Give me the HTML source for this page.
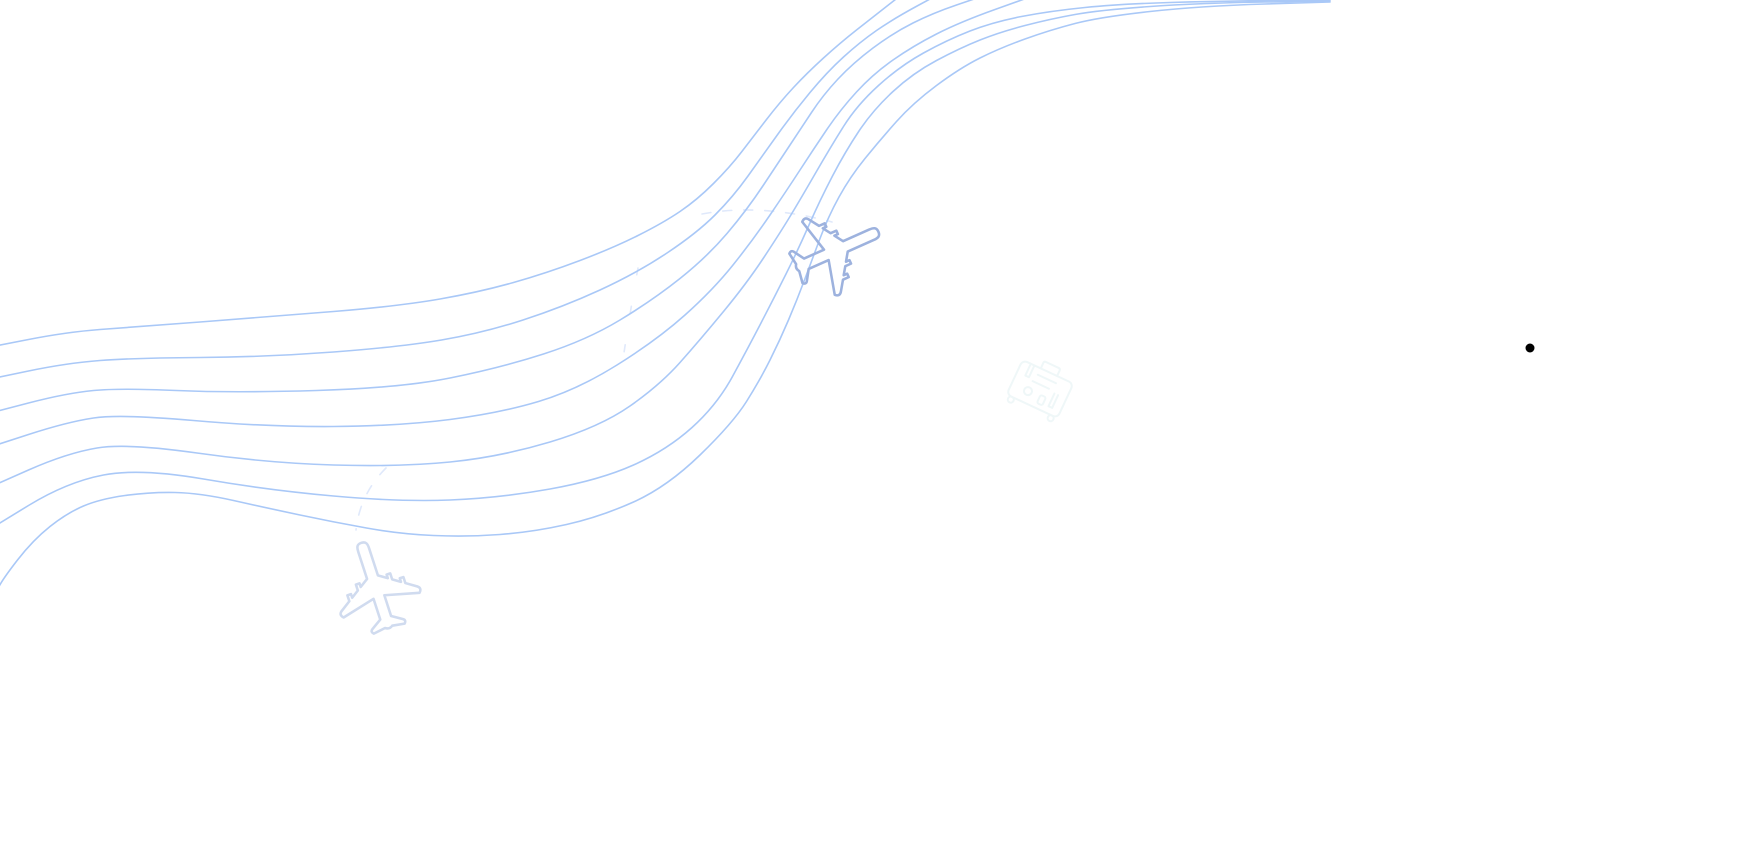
<!DOCTYPE html>
<html>
<head>
<meta charset="utf-8">
<style>
  html, body { margin: 0; padding: 0; background: #ffffff; }
  body { width: 1744px; height: 846px; overflow: hidden; font-family: "Liberation Sans", sans-serif; }
  svg { display: block; }
</style>
</head>
<body>
<svg width="1744" height="846" viewBox="0 0 1744 846" xmlns="http://www.w3.org/2000/svg">
  <defs>
    <path id="plane" d="M 50 0 C 50 -5 47 -6 42 -6 L 12 -6 L 6 -15 L 10 -15 L 10 -19 L 3.4 -19 L -2 -27 L 2 -27 L 2 -31 L -4.6 -31 L -12 -42 Q -15 -46 -19 -42 L -10 -6 L -33 -6 L -40 -17 Q -42 -20 -45 -17 L -43 -4 Q -46 0 -43 4 L -45 17 Q -42 20 -40 17 L -33 6 L -10 6 L -19 42 Q -15 46 -12 42 L -4.6 31 L 2 31 L 2 27 L -2 27 L 3.4 19 L 10 19 L 10 15 L 6 15 L 12 6 L 42 6 C 47 6 50 5 50 0 Z"/>
  </defs>

  <!-- faint dashed trails -->
  <g fill="none" stroke="#e0e9fb" stroke-width="1.6" stroke-linecap="round">
    <path d="M 702 214 Q 760 203 832 222" stroke-dasharray="9 12"/>
    <path d="M 638 268 Q 630 312 622 366" stroke-dasharray="7 32"/>
    <path d="M 386 468 Q 360 494 356 530" stroke-dasharray="9 14"/>
  </g>

  <!-- contrail lines -->
  <g fill="none" stroke="#a9c8f7" stroke-width="1.6" stroke-linecap="round">
    <path d="M -10 347 L 28.5 339.5 Q 67 332 100 329.5 Q 133 327 200 322 Q 267 317 333.5 311.5 Q 400 306 440 299 Q 480 292 513.5 282.5 Q 547 273 580 260.5 Q 613 248 638 235.5 Q 663 223 680 211.5 Q 697 200 713.5 183.5 Q 730 167 741.5 152 Q 753 137 766.5 119.5 Q 780 102 793.5 87.5 Q 807 73 823.5 58 Q 840 43 856.5 30 Q 873 17 889 4.5 L 905 -8"/>
    <path d="M -10 379 L 28.5 371 Q 67 363 100 360.5 Q 133 358 200 357.5 Q 267 357 333.5 352 Q 400 347 441.5 340 Q 483 333 523 320 Q 563 307 600 290 Q 637 273 667 253 Q 697 233 715 215 Q 733 197 748 176 Q 763 155 778 134 Q 793 113 810 92.5 Q 827 72 843.5 57 Q 860 42 876.5 30.5 Q 893 19 918 5.5 L 943 -8"/>
    <path d="M -10 413 L 28.5 403 Q 67 393 93.5 390.5 Q 120 388 176.5 390.5 Q 233 393 316.5 390.5 Q 400 388 450 378 Q 500 368 543.5 354 Q 587 340 620 320 Q 653 300 680 278.5 Q 707 257 727 233.5 Q 747 210 763.5 185 Q 780 160 790 145 Q 800 130 811.5 112.5 Q 823 95 838 79 Q 853 63 873 48 Q 893 33 913 23 Q 933 13 956.5 5 L 980 -3"/>
    <path d="M -10 447 L 28.5 434.5 Q 67 422 93.5 418 Q 120 414 193.5 420.5 Q 267 427 333.5 426.5 Q 400 426 450 419.5 Q 500 413 538.5 401.5 Q 577 390 617 365 Q 657 340 685 315 Q 713 290 733 265 Q 753 240 770 215 Q 787 190 800 170 Q 813 150 826.5 130 Q 840 110 856.5 92 Q 873 74 893 60 Q 913 46 936.5 34 Q 960 22 995 9.5 L 1030 -3"/>
    <path d="M -10 487 L 28.5 470 Q 67 453 97 448 Q 127 443 197 453 Q 267 463 333.5 465 Q 400 467 450 462 Q 500 457 550 442 Q 600 427 630 406 Q 660 385 680 362.5 Q 700 340 723.5 311.5 Q 747 283 763.5 258 Q 780 233 790 216.5 Q 800 200 815 174 Q 830 148 843.5 126.5 Q 857 105 878.5 85.5 Q 900 66 923.5 53 Q 947 40 970 31 Q 993 22 1021.5 16.5 Q 1050 11 1085 7.5 Q 1120 4 1170 2.5 Q 1220 1 1275 0.5 L 1330 0"/>
    <path d="M -10 529 L 28.5 505.5 Q 67 482 103.5 475 Q 140 468 203.5 479 Q 267 490 333.5 496 Q 400 502 450 500 Q 500 498 550 489 Q 600 480 633.5 465 Q 667 450 692 427.5 Q 717 405 732.5 376.5 Q 748 348 761 323 Q 774 298 786 274 Q 798 250 809 225 Q 820 200 832.5 176 Q 845 152 859 131 Q 873 110 893 91.5 Q 913 73 936.5 60.5 Q 960 48 980 40 Q 1000 32 1025 25.5 Q 1050 19 1075 14.5 Q 1100 10 1150 6.5 Q 1200 3 1265 2 L 1330 1"/>
    <path d="M -5 595 L -1.5 587.5 Q 2 580 17.5 560 Q 33 540 50 526.5 Q 67 513 83.5 506 Q 100 499 125 495.5 Q 150 492 175 492.5 Q 200 493 233.5 500.5 Q 267 508 300 515 Q 333 522 366.5 528 Q 400 534 433.5 535.5 Q 467 537 500 534.5 Q 533 532 566.5 524.5 Q 600 517 633.5 502 Q 667 487 700 455 Q 733 423 746.5 401.5 Q 760 380 770 360 Q 780 340 788.5 320 Q 797 300 804.5 280 Q 812 260 820 238.5 Q 828 217 839 197 Q 850 177 865 158.5 Q 880 140 896.5 121.5 Q 913 103 936.5 85.5 Q 960 68 980 58 Q 1000 48 1025 39 Q 1050 30 1075 23.5 Q 1100 17 1150 11.5 Q 1200 6 1265 4 L 1330 2"/>
  </g>

  <!-- airplane 1 (upper, darker) -->
  <g transform="translate(835,251) rotate(-24) scale(0.95)">
    <use href="#plane" fill="none" stroke="#9db2de" stroke-width="2.7" stroke-linejoin="round"/>
  </g>

  <!-- airplane 2 (lower, faint) -->
  <g transform="translate(376,588) rotate(-108) scale(0.95)">
    <use href="#plane" fill="none" stroke="#d0dbef" stroke-width="2.7" stroke-linejoin="round"/>
  </g>

  <!-- very faint luggage -->
  <g transform="translate(1040,389) rotate(25)" fill="none" stroke="#eff7f8" stroke-width="2" stroke-linejoin="round" stroke-linecap="round">
    <rect x="-28" y="-19" width="56" height="38" rx="5"/>
    <path d="M -8 -19 L -8 -25 Q -8 -27 -6 -27 L 8 -27 Q 10 -27 10 -25 L 10 -19"/>
    <path d="M -19 -19 L -19 -6 L -15 -6 L -15 -19"/>
    <path d="M 19 -2 L 19 12 L 15 12 L 15 -2"/>
    <path d="M -8 -12 L 12 -12 M -10 -4 L 8 -4"/>
    <circle cx="-10" cy="7" r="4"/>
    <rect x="3" y="5" width="6" height="9" rx="2"/>
    <circle cx="-22" cy="22" r="3"/>
    <circle cx="22" cy="22" r="3"/>
  </g>

  <!-- black dot -->
  <circle cx="1530" cy="348" r="4.5" fill="#000000"/>
</svg>
</body>
</html>
